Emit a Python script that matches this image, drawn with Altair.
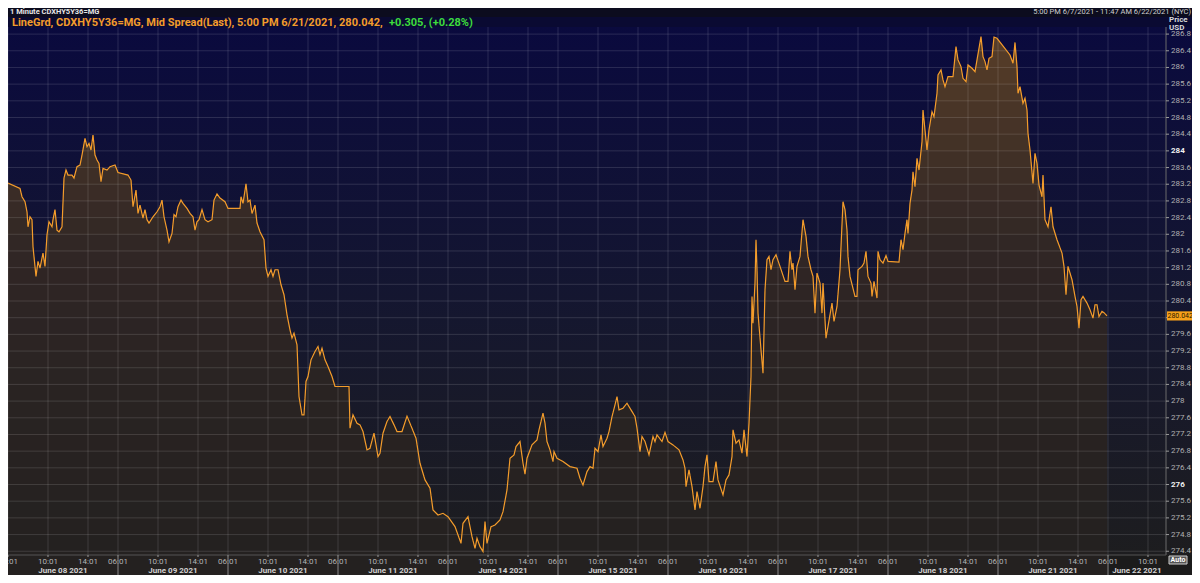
import altair as alt
import pandas as pd

# trading hours since June 08 06:01 (each session shown as 11 hours)
t_hours = [
    0.0, 1.2, 1.4, 1.7, 1.9, 2.0, 2.2, 2.4, 2.5, 2.8,
    3.0, 3.2, 3.5, 3.7, 3.9, 4.1, 4.4, 4.5, 4.7, 4.9,
    5.1, 5.4, 5.6, 5.8, 6.0, 6.4, 6.6, 6.9, 7.2, 7.4,
    7.7, 7.9, 8.1, 8.3, 8.5, 8.7, 8.9, 9.1, 9.3, 9.5,
    9.9, 10.2, 10.7, 10.9, 11.0, 12.0, 12.3, 12.5, 12.8, 13.0,
    13.2, 13.5, 13.7, 13.9, 14.1, 14.5, 14.9, 15.2, 15.4, 15.6,
    15.9, 16.1, 16.4, 16.6, 16.8, 17.0, 17.3, 17.5, 17.9, 18.2,
    18.5, 18.7, 18.9, 19.1, 19.4, 19.7, 20.0, 20.4, 20.6, 20.9,
    21.2, 21.7, 22.0, 23.2, 23.3, 23.5, 23.8, 24.0, 24.2, 24.4,
    24.7, 24.9, 25.2, 25.6, 25.8, 26.0, 26.3, 26.5, 26.7, 27.0,
    27.3, 27.6, 27.9, 28.2, 28.4, 28.6, 28.9, 29.1, 29.4, 29.6,
    29.8, 30.0, 30.3, 30.7, 31.0, 31.2, 31.4, 31.7, 32.0, 32.4,
    32.7, 34.1, 34.2, 34.5, 34.9, 35.2, 35.5, 35.9, 36.2, 36.6,
    37.0, 37.2, 37.5, 37.9, 38.2, 38.6, 38.9, 39.4, 39.9, 40.4,
    40.8, 41.2, 41.7, 42.2, 42.5, 43.0, 43.5, 44.0, 44.7, 45.3,
    45.5, 46.0, 46.4, 46.7, 46.9, 47.2, 47.5, 47.7, 47.9, 48.3,
    48.7, 49.2, 49.5, 49.9, 50.2, 50.6, 50.8, 51.2, 51.5, 51.7,
    51.9, 52.4, 52.9, 53.1, 53.5, 53.7, 53.9, 54.2, 54.5, 54.6,
    54.9, 55.5, 56.2, 56.9, 57.2, 57.5, 57.9, 58.2, 58.5, 58.7,
    59.0, 59.3, 59.5, 59.9, 60.1, 60.4, 60.7, 60.9, 61.1, 61.5,
    61.9, 62.3, 62.7, 62.9, 63.2, 63.4, 63.7, 64.1, 64.5, 64.7,
    64.9, 65.4, 65.7, 66.0, 66.5, 67.1, 67.5, 67.7, 67.8, 68.1,
    68.4, 68.7, 68.9, 69.2, 69.5, 69.7, 69.9, 70.1, 70.5, 70.8,
    71.0, 71.5, 71.8, 72.1, 72.4, 72.5, 72.8, 73.1, 73.4, 73.6,
    73.9, 74.1, 74.3, 74.4, 74.5, 74.7, 74.8, 74.9, 75.0, 75.3,
    75.5, 75.7, 75.9, 76.1, 76.3, 76.5, 76.8, 77.2, 77.7, 78.0,
    78.2, 78.4, 78.5, 78.7, 78.9, 79.2, 79.5, 79.8, 80.0, 80.3,
    80.5, 80.7, 80.9, 81.2, 81.4, 81.5, 81.8, 82.0, 82.4, 82.6,
    82.9, 83.2, 83.5, 83.7, 83.9, 84.0, 84.2, 84.7, 84.9, 85.0,
    85.4, 85.6, 85.8, 86.0, 86.3, 86.4, 86.6, 86.9, 87.0, 87.2,
    87.5, 87.8, 88.0, 89.1, 89.3, 89.5, 89.7, 89.9, 90.0, 90.2,
    90.4, 90.5, 90.7, 90.9, 91.1, 91.4, 91.5, 91.9, 92.1, 92.4,
    92.6, 92.9, 93.0, 93.3, 93.5, 93.7, 94.0, 94.5, 94.8, 95.0,
    95.3, 95.5, 95.8, 96.0, 96.4, 96.7, 96.9, 97.3, 97.5, 97.7,
    97.9, 98.1, 98.4, 98.6, 98.9, 100.2, 100.5, 100.7, 100.9, 101.0,
    101.2, 101.5, 101.7, 101.9, 102.0, 102.2, 102.5, 102.7, 102.9, 103.1,
    103.4, 103.5, 103.7, 104.0, 104.3, 104.5, 104.9, 105.4, 105.6, 105.8,
    106.0, 106.4, 106.7, 106.9, 107.1, 107.3, 107.5, 107.9, 108.2, 108.5,
    108.7, 108.9, 109.1, 109.4, 109.6, 109.9,
]
spread = [
    283.23, 283.10, 282.90, 282.78, 282.54, 282.18, 282.42, 282.35, 281.70, 280.99,
    281.35, 281.19, 281.55, 281.23, 281.99, 282.30, 282.18, 282.35, 282.59, 282.10,
    282.06, 282.18, 283.35, 283.54, 283.42, 283.42, 283.35, 283.62, 283.66, 283.90,
    284.30, 284.10, 284.18, 284.02, 284.38, 283.90, 283.78, 283.70, 283.26, 283.58,
    283.54, 283.62, 283.66, 283.54, 283.48, 283.42, 283.30, 282.66, 283.06, 282.50,
    282.70, 282.39, 282.59, 282.35, 282.27, 282.42, 282.54, 282.66, 282.82, 282.42,
    282.10, 281.82, 282.02, 282.47, 282.42, 282.66, 282.82, 282.74, 282.62, 282.50,
    282.42, 282.10, 282.30, 282.35, 282.59, 282.35, 282.30, 282.35, 282.82, 282.97,
    282.87, 282.78, 282.62, 282.62, 282.90, 282.74, 283.21, 282.78, 282.82, 282.50,
    282.70, 282.27, 282.06, 281.87, 281.19, 280.99, 281.15, 280.99, 281.15, 281.15,
    280.79, 280.55, 280.07, 279.71, 279.51, 279.63, 279.35, 278.11, 277.67, 277.67,
    278.47, 278.59, 278.99, 279.19, 279.31, 279.11, 279.27, 278.99, 278.83, 278.59,
    278.35, 278.35, 277.35, 277.67, 277.47, 277.43, 277.27, 276.83, 276.87, 277.23,
    276.67, 276.75, 277.23, 277.51, 277.63, 277.43, 277.27, 277.27, 277.64, 277.35,
    277.11, 276.51, 276.11, 275.91, 275.39, 275.27, 275.31, 275.23, 274.99, 274.59,
    275.07, 275.23, 274.75, 274.47, 274.71, 274.51, 274.39, 275.11, 274.59, 274.99,
    275.03, 275.15, 275.35, 275.87, 276.63, 276.71, 276.91, 277.03, 276.51, 276.25,
    276.63, 276.95, 277.07, 277.31, 277.71, 277.47, 277.03, 276.83, 276.55, 276.79,
    276.63, 276.55, 276.43, 276.39, 276.15, 275.99, 276.31, 276.43, 276.39, 276.87,
    276.79, 277.19, 276.91, 277.11, 277.27, 277.63, 277.91, 278.11, 277.79, 277.83,
    277.95, 277.79, 277.63, 277.35, 276.79, 277.15, 277.03, 276.71, 277.15, 277.03,
    277.19, 277.03, 277.25, 277.03, 276.95, 276.83, 276.59, 276.39, 275.95, 276.35,
    275.95, 275.39, 275.83, 275.43, 275.95, 276.43, 276.71, 276.07, 276.07, 276.55,
    276.11, 275.75, 276.11, 276.23, 276.67, 277.31, 276.99, 277.07, 276.75, 277.31,
    276.67, 277.47, 278.59, 280.51, 279.87, 280.83, 281.87, 281.15, 280.11, 279.23,
    278.67, 280.67, 281.39, 281.47, 281.15, 281.39, 281.51, 281.23, 280.87, 280.87,
    281.59, 281.15, 281.31, 280.67, 281.23, 281.47, 282.35, 281.95, 281.47, 281.15,
    280.99, 280.11, 281.07, 280.83, 280.11, 280.83, 279.51, 279.79, 280.35, 279.91,
    280.27, 281.15, 282.78, 282.59, 282.10, 281.47, 280.99, 280.51, 280.51, 281.15,
    281.23, 281.31, 281.59, 280.99, 280.83, 280.51, 280.87, 280.47, 281.59, 281.39,
    281.31, 281.49, 281.35, 281.33, 281.87, 281.63, 282.02, 282.35, 282.02, 282.74,
    283.06, 283.50, 283.14, 283.82, 283.54, 284.22, 284.98, 284.02, 284.50, 284.94,
    284.82, 285.38, 285.82, 285.94, 285.70, 285.54, 285.78, 285.78, 286.50, 286.18,
    286.02, 285.74, 285.66, 286.06, 285.98, 285.90, 286.18, 286.74, 286.26, 286.14,
    285.94, 286.22, 286.26, 286.73, 286.70, 286.30, 286.10, 286.60, 286.02, 285.38,
    285.54, 285.14, 285.26, 284.98, 284.42, 284.02, 283.22, 283.94, 283.70, 283.18,
    282.90, 283.42, 282.35, 282.18, 282.66, 282.18, 281.87, 281.55, 281.23, 280.55,
    281.23, 280.91, 280.51, 280.27, 279.75, 280.43, 280.51, 280.35, 280.19, 279.99,
    280.31, 280.31, 280.03, 280.15, 280.12, 280.042,
]

days = ["June 08 2021", "June 09 2021", "June 10 2021", "June 11 2021",
        "June 14 2021", "June 15 2021", "June 16 2021", "June 17 2021",
        "June 18 2021", "June 21 2021", "June 22 2021"]
hour_labels = ["06:01", "10:01", "14:01"]
hour_offsets = [0, 4, 8]
SESSION = 11
price_ticks = [274.4, 274.8, 275.2, 275.6, 276, 276.4, 276.8, 277.2, 277.6, 278,
               278.4, 278.8, 279.2, 279.6, 280, 280.4, 280.8, 281.2, 281.6, 282,
               282.4, 282.8, 283.2, 283.6, 284, 284.4, 284.8, 285.2, 285.6, 286,
               286.4, 286.8]

last_value = 280.042
title_main = "LineGrd, CDXHY5Y36=MG, Mid Spread(Last), 5:00 PM 6/21/2021, 280.042, "
title_change = "+0.305, (+0.28%)"
top_left = "1 Minute CDXHY5Y36=MG"
top_right = "5:00 PM 6/7/2021 - 11:47 AM 6/22/2021 (NYC)"

W, H = 1158, 528
RIGHT = 26
X_DOMAIN = [0, 115.8]
Y_DOMAIN = [274.31, 286.97]
FONT = "Roboto, sans-serif"
ORANGE = "#f39c2c"
GRID = "#ffffff"
# fill under the line darkens from brown (top) to charcoal (bottom)
AREA_STOPS = [(274.3, (36, 33, 32)), (278.0, (41, 35, 34)), (281.6, (48, 38, 37)),
              (285.4, (76, 55, 39)), (287.2, (92, 64, 41))]

xs = alt.Scale(domain=X_DOMAIN, nice=False, zero=False)
ys = alt.Scale(domain=Y_DOMAIN, nice=False, zero=False)

df = pd.DataFrame({"t": t_hours, "spread": spread})
one = pd.DataFrame({"k": [0]})

tick_rows = [(d * SESSION + o, lab) for d in range(len(days))
             for o, lab in zip(hour_offsets, hour_labels) if d * SESSION + o <= X_DOMAIN[1]]
xt_df = pd.DataFrame(tick_rows, columns=["t", "label"])
yt_df = pd.DataFrame({"p": price_ticks, "label": [f"{p:g}" for p in price_ticks]})
yt_df["major"] = [p % 4 == 0 for p in price_ticks]
yl_df = yt_df[yt_df["p"] != 280]  # hidden behind the last-price tag


def area_color(v):
    for (v0, c0), (v1, c1) in zip(AREA_STOPS, AREA_STOPS[1:]):
        if v <= v1:
            f = max(0.0, (v - v0) / (v1 - v0))
            return "#%02x%02x%02x" % tuple(round(a + (b - a) * f) for a, b in zip(c0, c1))
    return "#%02x%02x%02x" % AREA_STOPS[-1][1]


def grad(*stops):
    return alt.Gradient(gradient="linear", x1=0, x2=0, y1=0, y2=1,
                        stops=[alt.GradientStop(color=c, offset=o) for o, c in stops])


def box(x0, x1, y0, y1, **kw):
    return alt.Chart(one).mark_rect(**kw).encode(
        x=alt.value(x0), x2=alt.value(x1), y=alt.value(y0), y2=alt.value(y1))


bg = box(0, W + RIGHT, 0, H, color=grad((0, "#0a0a3e"), (0.55, "#15172f"), (1, "#1d1d1f")))
band_top = box(0, W + RIGHT, -19, -10, color="#0c0c1e")
band_title = box(0, W + RIGHT, -10, 0, color="#0a0a32")
band_bottom = box(0, W + RIGHT, H, H + 20, color="#1b1b1b")

# area drawn as stacked opaque layers, each clipped at a grid level
levels = [287.2] + price_ticks[::-1]
area_layers = []
for hi, lo in zip(levels, levels[1:] + [Y_DOMAIN[0]]):
    area_layers.append(
        alt.Chart(df).transform_calculate(top=f"min(datum.spread, {hi})")
        .mark_area(color=area_color((hi + lo) / 2), stroke=None)
        .encode(x=alt.X("t:Q", scale=xs, axis=None),
                y=alt.Y("top:Q", scale=ys, axis=None), y2=alt.value(H)))

hgrid = alt.Chart(yt_df).mark_rule(color=GRID, opacity=0.13).encode(
    y=alt.Y("p:Q", scale=ys, axis=None), x=alt.value(0), x2=alt.value(W))
vgrid = alt.Chart(xt_df).mark_rule(color=GRID, opacity=0.13).encode(
    x=alt.X("t:Q", scale=xs, axis=None), y=alt.value(0), y2=alt.value(H))

line = alt.Chart(df).mark_line(color=ORANGE, strokeWidth=1.2).encode(
    x=alt.X("t:Q", scale=xs, axis=None), y=alt.Y("spread:Q", scale=ys, axis=None))

right_domain = alt.Chart(one).mark_rule(color="#6a6a6a").encode(
    x=alt.value(W), y=alt.value(0), y2=alt.value(H))
bottom_domain = alt.Chart(one).mark_rule(color="#555555").encode(
    x=alt.value(0), x2=alt.value(W), y=alt.value(H))

y_ticks = alt.Chart(yt_df).mark_rule(color="#9a9a9a").encode(
    y="p:Q", x=alt.value(W), x2=alt.value(W + 3))
y_minor = alt.Chart(yl_df[~yl_df["major"]]).mark_text(
    font=FONT, fontSize=8, align="left", color="#b0b0b0").encode(
    y="p:Q", x=alt.value(W + 5), text="label:N")
y_major = alt.Chart(yl_df[yl_df["major"]]).mark_text(
    font=FONT, fontSize=8, fontWeight="bold", align="left", color="#f0f0f0").encode(
    y="p:Q", x=alt.value(W + 5), text="label:N")

x_ticks = alt.Chart(xt_df).mark_rule(color="#9a9a9a").encode(
    x="t:Q", y=alt.value(H), y2=alt.value(H + 2))
x_labels = alt.Chart(xt_df).mark_text(font=FONT, fontSize=8, color="#b4b4b4").encode(
    x="t:Q", y=alt.value(H + 7), text="label:N")

# date captions under each session, day separators
day_df = pd.DataFrame({"day": days, "start": [i * SESSION for i in range(len(days))]})
day_df["mid"] = [(s + min(s + SESSION, X_DOMAIN[1])) / 2 for s in day_df["start"]]
day_text = alt.Chart(day_df).mark_text(font=FONT, fontSize=8, fontWeight="bold",
                                       color="#d2d2d2").encode(
    x="mid:Q", y=alt.value(H + 15.5), text="day:N")
day_sep = alt.Chart(day_df[day_df["start"] > 0]).mark_rule(color="#8a8a8a").encode(
    x="start:Q", y=alt.value(H + 2), y2=alt.value(H + 20))

# last value tag
last_df = pd.DataFrame({"v": [last_value], "label": [f"{last_value:.3f}"]})
tag = alt.Chart(last_df).transform_calculate(
    hi="datum.v + 0.11", lo="datum.v - 0.11").mark_rect(color="#f7a11a").encode(
    x=alt.value(W + 1), x2=alt.value(W + RIGHT), y="hi:Q", y2="lo:Q")
tag_text = alt.Chart(last_df).mark_text(font=FONT, fontSize=7, align="left",
                                        color="#2b1a00").encode(
    x=alt.value(W + 1.5), y="v:Q", text="label:N")


def label(text, x, y, color, size, weight="bold", align="left"):
    return alt.Chart(pd.DataFrame({"s": [text]})).mark_text(
        font=FONT, fontSize=size, fontWeight=weight, align=align, color=color).encode(
        x=alt.value(x), y=alt.value(y), text="s:N")


texts = [
    label(top_left, 2, -15, "#e6e6e6", 7.5),
    label(top_right, W + RIGHT - 1, -15, "#d0d0d0", 7.5, weight="normal", align="right"),
    label(title_main, 4, -4.5, ORANGE, 11),
    label(title_change, 381, -4.5, "#3ddc3d", 11),
    label("Price", W + 3, -7.5, "#d8d8d8", 8),
    label("USD", W + 3, 0.5, "#d8d8d8", 8),
]
auto_box = box(W + 3, W + 21, H + 1, H + 9, color="#555555", stroke="#cfcfcf", strokeWidth=1)
auto_text = label("Auto", W + 12, H + 5, "#ffffff", 7, align="center")

chart = alt.layer(
    bg, band_top, band_title, band_bottom, *area_layers, hgrid, vgrid, line,
    right_domain, bottom_domain, y_ticks, y_minor, y_major, x_ticks, x_labels,
    day_sep, day_text, tag, tag_text, *texts, auto_box, auto_text,
).properties(
    width=W, height=H, autosize="none",
    padding={"left": 0, "top": 19, "right": RIGHT, "bottom": 20},
).configure(background="#101020").configure_view(stroke=None)

chart.save("out.html", embed_options={"renderer": "svg", "actions": False})
